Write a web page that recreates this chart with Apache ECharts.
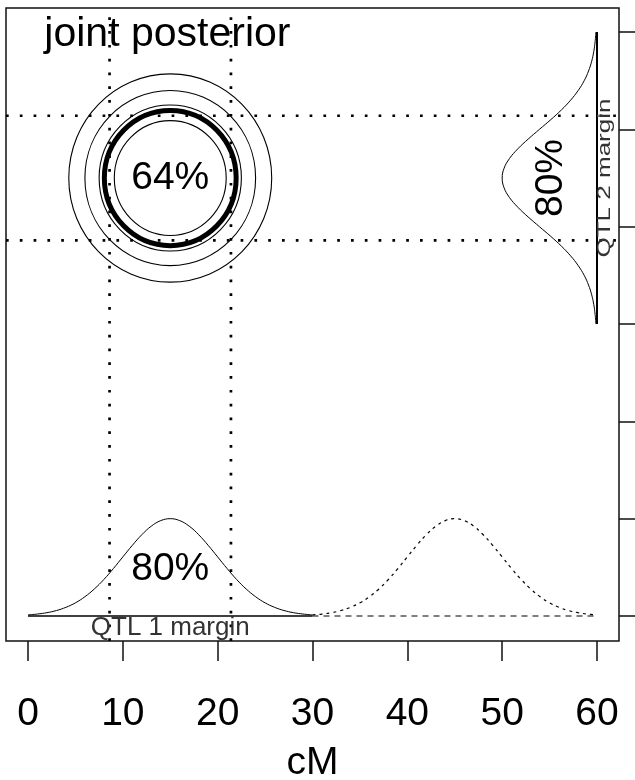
<!DOCTYPE html>
<html>
<head>
<meta charset="utf-8">
<script src="https://cdn.jsdelivr.net/npm/echarts@6/dist/echarts.min.js"></script>
<style>
  html, body { margin: 0; padding: 0; background: #fff; }
  #chart { width: 635px; height: 780px; }
</style>
</head>
<body>
<div id="chart"></div>
<script>
// Two-QTL posterior on a 60 cM chromosome: joint density contours
// with the two marginal densities drawn along the bottom and right edges.

const tickValues = [0, 10, 20, 30, 40, 50, 60];
const tickLabels = ['0', '10', '20', '30', '40', '50', '60'];

// QTL 1 marginal density along the bottom (position in cM, curve height)
const margin1Pos = [0, 1, 2, 3, 4, 5, 6, 7, 8, 9, 10, 11, 12, 13, 14, 15,
  16, 17, 18, 19, 20, 21, 22, 23, 24, 25, 26, 27, 28, 29, 30];
const margin1Height = [0.11, 0.20, 0.34, 0.56, 0.89, 1.35, 1.98, 2.78, 3.75, 4.87, 6.07,
  7.26, 8.35, 9.23, 9.80, 10.0, 9.80, 9.23, 8.35, 7.26, 6.07, 4.87, 3.75, 2.78, 1.98,
  1.35, 0.89, 0.56, 0.34, 0.20, 0.11];

// Same marginal shown at its mirrored placement (dotted), 30-60 cM
const altPos = [30, 31, 32, 33, 34, 35, 36, 37, 38, 39, 40, 41, 42, 43, 44, 45,
  46, 47, 48, 49, 50, 51, 52, 53, 54, 55, 56, 57, 58, 59, 60];
const altHeight = [0.11, 0.20, 0.34, 0.56, 0.89, 1.35, 1.98, 2.78, 3.75, 4.87, 6.07,
  7.26, 8.35, 9.23, 9.80, 10.0, 9.80, 9.23, 8.35, 7.26, 6.07, 4.87, 3.75, 2.78, 1.98,
  1.35, 0.89, 0.56, 0.34, 0.20, 0.11];

// QTL 2 marginal density hanging left of the right-hand baseline
const margin2Pos = [30, 31, 32, 33, 34, 35, 36, 37, 38, 39, 40, 41, 42, 43, 44, 45,
  46, 47, 48, 49, 50, 51, 52, 53, 54, 55, 56, 57, 58, 59, 60];
const margin2Height = [0.11, 0.20, 0.34, 0.56, 0.89, 1.35, 1.98, 2.78, 3.75, 4.87, 6.07,
  7.26, 8.35, 9.23, 9.80, 10.0, 9.80, 9.23, 8.35, 7.26, 6.07, 4.87, 3.75, 2.78, 1.98,
  1.35, 0.89, 0.56, 0.34, 0.20, 0.11];

// Baselines of the marginal panels
const baseline1 = [0, 30];        // solid, at height 0
const baselineAlt = [30, 60];     // dashed, at height 0
const baseline2 = [30, 60];       // vertical, at x = baseline2X
const baseline2X = 60;

// Joint posterior mode and contour radii (cM)
const jointPeak = [15, 45];
const contourRadii = [10.7, 9.0, 7.5, 5.9];
const hpdRadius = 6.95;

// 80% marginal intervals
const interval1 = [8.6, 21.4];
const interval2 = [38.6, 51.4];

// Text annotations (data coordinates)
const labelText = ['joint posterior', '64%', '80%', '80%', 'QTL 1 margin', 'QTL 2 margin'];
const labelX = [14.7, 15, 15, 55.2, 15, 60.8];
const labelY = [59.7, 45, 4.8, 45, -1.18, 45];

const X_MIN = -2.32, X_MAX = 62.32, Y_MIN = -2.57, Y_MAX = 62.47;
const FONT = '"Liberation Sans", Arial, Helvetica, sans-serif';

const labelStyle = [
  { size: 41 },
  { size: 39 },
  { size: 39 },
  { size: 39, rot: 90 },
  { size: 26, color: '#333' },
  { size: 26, rot: 90, squash: 0.7, color: '#333' }
];

const zip = (a, b) => a.map((v, i) => [v, b[i]]);

function line(data, width, dash, smooth) {
  return {
    type: 'line',
    data: data,
    symbol: 'none',
    smooth: smooth || false,
    silent: true,
    clip: true,
    lineStyle: { color: '#000', width: width, type: dash || 'solid', cap: 'butt' },
    z: 3
  };
}

const dotted = [2.7, 11.1];
const series = [];

// interval guides across the whole panel
interval1.forEach(x => series.push(line([[x, Y_MIN], [x, Y_MAX]], 2.7, dotted)));
interval2.forEach(y => series.push(line([[X_MIN, y], [X_MAX, y]], 2.7, dotted)));

// marginal curves and baselines
series.push(line(zip(margin1Pos, margin1Height), 1, null, 0.4));
series.push(line(baseline1.map(x => [x, 0]), 1.3));
series.push(line(zip(altPos, altHeight), 1.2, [3, 4], 0.4));
series.push(line(baselineAlt.map(x => [x, 0]), 1.2, [6, 5]));
series.push(line(margin2Pos.map((y, i) => [baseline2X - margin2Height[i], y]), 1, null, 0.4));
series.push(line(baseline2.map(y => [baseline2X, y]), 2));

// joint posterior contours
function ringItem(width) {
  return function (params, api) {
    const c = api.coord([api.value(0), api.value(1)]);
    const s = api.size([api.value(2), api.value(2)]);
    return {
      type: 'ellipse',
      shape: { cx: c[0], cy: c[1], rx: s[0], ry: s[1] },
      style: { fill: 'none', stroke: '#000', lineWidth: width }
    };
  };
}
series.push({
  type: 'custom',
  renderItem: ringItem(1.1),
  data: contourRadii.map(r => [jointPeak[0], jointPeak[1], r]),
  silent: true, z: 4
});
series.push({
  type: 'custom',
  renderItem: ringItem(5),
  data: [[jointPeak[0], jointPeak[1], hpdRadius]],
  silent: true, z: 4
});

// annotations
series.push({
  type: 'custom',
  silent: true,
  z: 6,
  data: labelX.map((x, i) => [x, labelY[i]]),
  renderItem: function (params, api) {
    const i = params.dataIndex;
    const st = labelStyle[i];
    const p = api.coord([api.value(0), api.value(1)]);
    return {
      type: 'text',
      x: p[0],
      y: p[1],
      rotation: st.rot ? st.rot * Math.PI / 180 : 0,
      scaleY: st.squash || 1,
      style: {
        text: labelText[i],
        fontSize: st.size,
        fontFamily: FONT,
        fill: st.color || '#000',
        align: 'center',
        verticalAlign: 'middle'
      }
    };
  }
});

const chart = echarts.init(document.getElementById('chart'), null, { renderer: 'canvas' });
chart.setOption({
  animation: false,
  backgroundColor: '#fff',
  grid: {
    left: 6, right: 16, top: 8, bottom: 139,
    show: true, borderColor: '#111', borderWidth: 1.5,
    containLabel: false, outerBoundsMode: 'none'
  },
  xAxis: {
    type: 'value', min: X_MIN, max: X_MAX, position: 'bottom',
    axisLine: { show: false, onZero: false },
    splitLine: { show: false },
    axisTick: { show: true, inside: false, customValues: tickValues, length: 20, lineStyle: { color: '#111', width: 1.5 } },
    axisLabel: {
      customValues: tickValues,
      formatter: v => tickLabels[tickValues.indexOf(v)],
      margin: 54, fontSize: 39, color: '#000', fontFamily: FONT
    },
    name: 'cM', nameLocation: 'middle', nameGap: 103,
    nameTextStyle: { fontSize: 39, color: '#000', fontFamily: FONT }
  },
  yAxis: {
    type: 'value', position: 'right', min: Y_MIN, max: Y_MAX,
    axisLine: { show: false, onZero: false },
    splitLine: { show: false },
    axisTick: { show: true, inside: false, customValues: tickValues, length: 16, lineStyle: { color: '#111', width: 1.5 } },
    axisLabel: { show: false }
  },
  series: series
});
</script>
</body>
</html>
